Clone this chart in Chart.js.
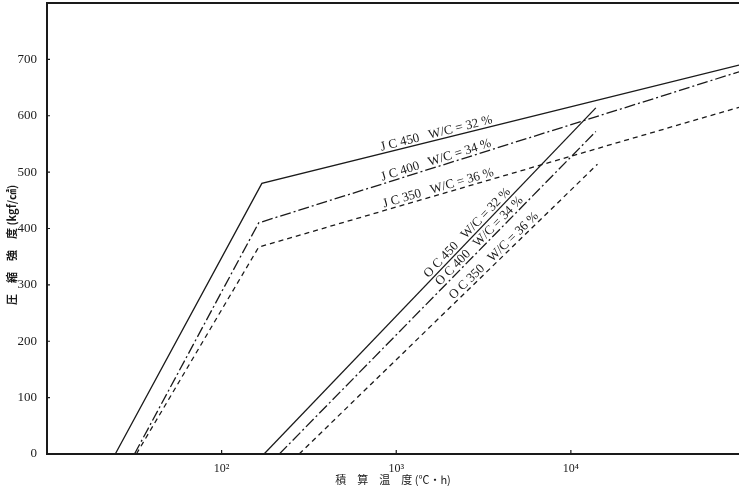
<!DOCTYPE html>
<html>
<head>
<meta charset="utf-8">
<script src="https://cdn.jsdelivr.net/npm/chart.js@4/dist/chart.umd.min.js"></script>
<style>
  html, body { margin: 0; padding: 0; background: #fff; }
</style>
</head>
<body>
<canvas id="chart" width="739" height="486"></canvas>
<script>
// values (x: 積算温度 ℃・h, y: 圧縮強度 kgf/㎠)
const jc450X = [24.6, 170, 91800];
const jc450Y = [0, 480, 690];
const jc400X = [31.7, 163, 91800];
const jc400Y = [0, 410, 678];
const jc350X = [32.5, 163, 91800];
const jc350Y = [0, 367, 615];
const oc450X = [175, 13900];
const oc450Y = [0, 614];
const oc400X = [214, 13900];
const oc400Y = [0, 572];
const oc350X = [278, 14200];
const oc350Y = [0, 514];

const seriesNames = ['JC450', 'JC400', 'JC350', 'OC450', 'OC400', 'OC350'];
const xTicks = [100, 1000, 10000];
const xTickLabels = ['10²', '10³', '10⁴'];
const yTicks = [0, 100, 200, 300, 400, 500, 600, 700];

const X_MIN = 10, X_MAX = 91800, Y_MIN = 0, Y_MAX = 800;

const ink = '#1a1a1a';
const serif = '"Liberation Serif", "DejaVu Serif", serif';
const cjk = '"Noto Sans CJK JP", "Noto Sans", sans-serif';

const solid = [];
const dashDot = [11, 3, 2, 3];
const dashed = [5, 4];

function pts(xs, ys) {
    return xs.map((v, i) => ({ x: v, y: ys[i] }));
}

function series(label, xs, ys, dash) {
    return {
        label: label,
        data: pts(xs, ys),
        borderColor: ink,
        borderWidth: 1.3,
        borderDash: dash,
        pointRadius: 0,
        tension: 0,
        fill: false
    };
}

// text written along the lines: anchored at an x value on dataset ds
const lineTexts = [
    { ds: 0, at: 1734, lift: 3, text: 'J C 450   W/C = 32 %' },
    { ds: 1, at: 1734, lift: 3, text: 'J C 400   W/C = 34 %' },
    { ds: 2, at: 1780, lift: 3, text: 'J C 350   W/C = 36 %' },
    { ds: 3, at: 2710, lift: 3, text: 'O C 450   W/C = 32 %' },
    { ds: 4, at: 3182, lift: 3, text: 'O C 400   W/C = 34 %' },
    { ds: 5, at: 3846, lift: 3, text: 'O C 350   W/C = 36 %' }
];

const lineTextPlugin = {
    id: 'lineText',
    afterDatasetsDraw(chart) {
        const { ctx, scales: { x, y } } = chart;
        ctx.save();
        ctx.fillStyle = ink;
        ctx.font = '13px ' + serif;
        ctx.textAlign = 'center';
        ctx.textBaseline = 'alphabetic';
        lineTexts.forEach(l => {
            const d = chart.data.datasets[l.ds].data;
            let i = 0;
            while (i < d.length - 2 && d[i + 1].x < l.at) i++;
            const x0 = x.getPixelForValue(d[i].x), y0 = y.getPixelForValue(d[i].y);
            const x1 = x.getPixelForValue(d[i + 1].x), y1 = y.getPixelForValue(d[i + 1].y);
            const t = (x.getPixelForValue(l.at) - x0) / (x1 - x0);
            const px = x0 + t * (x1 - x0), py = y0 + t * (y1 - y0);
            ctx.save();
            ctx.translate(px, py);
            ctx.rotate(Math.atan2(y1 - y0, x1 - x0));
            ctx.fillText(l.text, 0, -l.lift);
            ctx.restore();
        });
        ctx.restore();
    }
};

// frame (left, bottom, top) and short inward tick marks
const framePlugin = {
    id: 'frame',
    afterDraw(chart) {
        const { ctx, chartArea: a, scales: { x, y } } = chart;
        ctx.save();
        ctx.strokeStyle = ink;
        ctx.lineWidth = 2;
        ctx.beginPath();
        ctx.moveTo(a.right, a.top);
        ctx.lineTo(a.left, a.top);
        ctx.lineTo(a.left, a.bottom);
        ctx.lineTo(a.right, a.bottom);
        ctx.stroke();
        ctx.lineWidth = 1.2;
        ctx.beginPath();
        xTicks.forEach(v => {
            const px = x.getPixelForValue(v);
            ctx.moveTo(px, a.bottom);
            ctx.lineTo(px, a.bottom - 4);
        });
        yTicks.forEach(v => {
            const py = y.getPixelForValue(v);
            ctx.moveTo(a.left, py);
            ctx.lineTo(a.left + 3, py);
        });
        ctx.stroke();
        ctx.restore();
    }
};

new Chart(document.getElementById('chart'), {
    type: 'line',
    data: {
        datasets: [
            series(seriesNames[0], jc450X, jc450Y, solid),
            series(seriesNames[1], jc400X, jc400Y, dashDot),
            series(seriesNames[2], jc350X, jc350Y, dashed),
            series(seriesNames[3], oc450X, oc450Y, solid),
            series(seriesNames[4], oc400X, oc400Y, dashDot),
            series(seriesNames[5], oc350X, oc350Y, dashed)
        ]
    },
    options: {
        responsive: false,
        maintainAspectRatio: false,
        animation: false,
        layout: { padding: { top: 3, right: 0, left: 0, bottom: 0 } },
        plugins: {
            legend: { display: false },
            tooltip: { enabled: false }
        },
        scales: {
            x: {
                type: 'logarithmic',
                min: X_MIN,
                max: X_MAX,
                afterBuildTicks: s => { s.ticks = xTicks.map(v => ({ value: v })); },
                afterFit: s => { s.height = 32; s.paddingLeft = 0; s.paddingRight = 0; },
                ticks: {
                    color: ink,
                    font: { family: serif, size: 12 },
                    padding: 0,
                    maxRotation: 0,
                    autoSkip: false,
                    callback: v => xTickLabels[xTicks.indexOf(v)] || ''
                },
                grid: { display: false },
                border: { display: false },
                title: {
                    display: true,
                    text: '積　算　温　度 (℃・h)',
                    color: ink,
                    font: { family: cjk, size: 11 },
                    padding: { top: 0, bottom: 0 }
                }
            },
            y: {
                type: 'linear',
                min: Y_MIN,
                max: Y_MAX,
                afterBuildTicks: s => { s.ticks = yTicks.map(v => ({ value: v })); },
                afterFit: s => { s.width = 47; s.paddingTop = 0; s.paddingBottom = 0; },
                ticks: {
                    color: ink,
                    font: { family: serif, size: 13 },
                    padding: 2,
                    autoSkip: false
                },
                grid: { display: false },
                border: { display: false },
                title: {
                    display: true,
                    text: '圧　縮　強　度 (kgf/㎠)　　　',
                    color: ink,
                    font: { family: cjk, size: 11, weight: 'bold' },
                    padding: { top: 5, bottom: 0 }
                }
            }
        }
    },
    plugins: [lineTextPlugin, framePlugin]
});
</script>
</body>
</html>
